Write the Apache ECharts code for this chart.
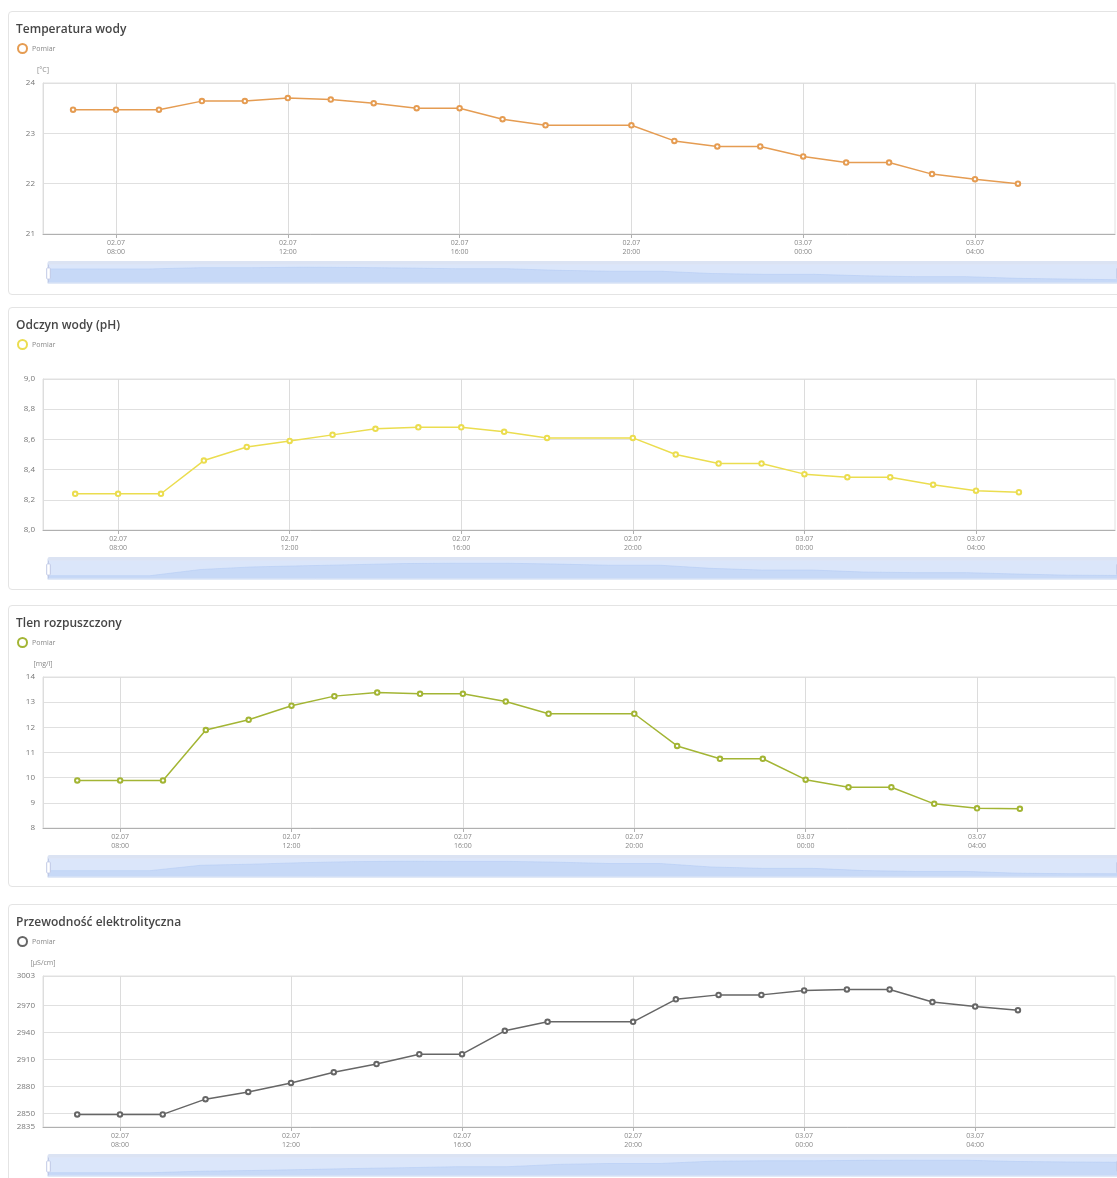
<!DOCTYPE html>
<html>
<head>
<meta charset="utf-8">
<script src="https://cdn.jsdelivr.net/npm/echarts@6/dist/echarts.min.js"></script>
<style>
  html, body { margin: 0; padding: 0; background: #fff; overflow: hidden; width: 1117px; height: 1178px; }
  .card { position: absolute; left: 8px; width: 1140px; border: 1px solid #e4e4e4; border-radius: 4px; box-sizing: border-box; background: #fff; }
  .chart { position: absolute; left: 0; width: 1117px; height: 283px; }
</style>
</head>
<body>
<div class="card" style="top:11px;height:284px"></div>
<div class="card" style="top:307px;height:283px"></div>
<div class="card" style="top:605px;height:282px"></div>
<div class="card" style="top:904px;height:290px"></div>
<div id="c1" class="chart" style="top:11px"></div>
<div id="c2" class="chart" style="top:307px"></div>
<div id="c3" class="chart" style="top:605px"></div>
<div id="c4" class="chart" style="top:904px"></div>
<script>
// Measurement hours (hours since 02.07 00:00); 19:00 missing in source
const hours = [7, 8, 9, 10, 11, 12, 13, 14, 15, 16, 17, 18, 20, 21, 22, 23, 24, 25, 26, 27, 28, 29];
// X-axis tick positions and labels
const tickHours = [8, 12, 16, 20, 24, 28];
const tickLabels = ['02.07\n08:00', '02.07\n12:00', '02.07\n16:00', '02.07\n20:00', '03.07\n00:00', '03.07\n04:00'];
// Visible x-axis window per panel (hours)
const xMin = [6.3, 6.25, 6.2, 6.2];
const xMax = [31.26, 31.24, 31.22, 31.27];

const titles = ['Temperatura wody', 'Odczyn wody (pH)', 'Tlen rozpuszczony', 'Przewodność elektrolityczna'];
const units = ['[°C]', '', '[mg/l]', '[µS/cm]'];
const seriesName = 'Pomiar';

const temperature = [23.47, 23.47, 23.47, 23.64, 23.64, 23.70, 23.67, 23.60, 23.50, 23.50, 23.28, 23.16, 23.16, 22.85, 22.74, 22.74, 22.54, 22.42, 22.42, 22.19, 22.09, 22.00];
const ph = [8.24, 8.24, 8.24, 8.46, 8.55, 8.59, 8.63, 8.67, 8.68, 8.68, 8.65, 8.61, 8.61, 8.50, 8.44, 8.44, 8.37, 8.35, 8.35, 8.30, 8.26, 8.25];
const oxygen = [9.89, 9.89, 9.89, 11.89, 12.30, 12.86, 13.24, 13.38, 13.33, 13.33, 13.03, 12.54, 12.54, 11.26, 10.75, 10.75, 9.92, 9.62, 9.62, 8.96, 8.78, 8.76];
const conductivity = [2849, 2849, 2849, 2866, 2874, 2884, 2896, 2905, 2916, 2916, 2942, 2952, 2952, 2977, 2982, 2982, 2987, 2988, 2988, 2974, 2969, 2965];

// Y-axis tick values per panel
const yTicks = [
  [21, 22, 23, 24],
  [8.0, 8.2, 8.4, 8.6, 8.8, 9.0],
  [8, 9, 10, 11, 12, 13, 14],
  [2835, 2850, 2880, 2910, 2940, 2970, 3003]
];
const colors = ['#e59c52', '#ebdd4f', '#a3b534', '#666666'];

const FONT = '"Open Sans", "Noto Sans", sans-serif';
const allValues = [temperature, ph, oxygen, conductivity];

function makeOption(i) {
  const c = colors[i];
  const ticks = yTicks[i];
  return {
    animation: false,
    textStyle: { fontFamily: FONT },
    title: {
      text: titles[i], left: 11, top: 8,
      textStyle: { fontSize: 12, fontWeight: 600, color: '#464646', fontFamily: FONT }
    },
    legend: {
      left: 12, top: 27,
      itemWidth: 9, itemHeight: 9, itemGap: 5,
      textStyle: { fontSize: 7, color: '#888', fontFamily: FONT },
      data: [{ name: seriesName, icon: 'circle', itemStyle: { color: '#fff', borderColor: c, borderWidth: 2 } }]
    },
    grid: { left: 43, right: 2, top: 72, height: 151, show: true, borderColor: '#e0e0e0', borderWidth: 1 },
    xAxis: {
      type: 'value',
      min: xMin[i],
      max: xMax[i],
      axisLine: { show: true, lineStyle: { color: '#b0b0b0' } },
      axisTick: { show: true, length: 4, customValues: tickHours, lineStyle: { color: '#b0b0b0' } },
      axisLabel: {
        customValues: tickHours,
        fontSize: 7, lineHeight: 9, color: '#888', fontFamily: FONT, margin: 4,
        formatter: v => tickLabels[tickHours.indexOf(Math.round(v))] || ''
      },
      splitLine: { show: true, lineStyle: { color: '#dcdcdc' } }
    },
    yAxis: {
      type: 'value',
      min: ticks[0],
      max: ticks[ticks.length - 1],
      name: units[i],
      nameGap: 10,
      nameTextStyle: { fontSize: 7, color: '#888', fontFamily: FONT },
      axisLine: { show: true, lineStyle: { color: '#ddd' } },
      axisTick: { show: false, customValues: ticks },
      axisLabel: {
        customValues: ticks,
        fontSize: 8, color: '#777', fontFamily: FONT, margin: 8,
        formatter: i === 1 ? (v => v.toFixed(1).replace('.', ',')) : (v => String(Math.round(v)))
      },
      splitLine: { lineStyle: { color: '#e0e0e0' } }
    },
    dataZoom: [{
      type: 'slider', xAxisIndex: 0, filterMode: 'none',
      left: 45, right: 0, top: 250, height: 20,
      showDetail: false,
      borderColor: '#dfe6f5',
      backgroundColor: 'rgba(225,233,250,0.5)',
      fillerColor: 'rgba(170,198,246,0.3)',
      dataBackground: { lineStyle: { color: '#c9d8f6', width: 0.5 }, areaStyle: { color: '#c9d8f6', opacity: 0.45 } },
      selectedDataBackground: { lineStyle: { color: '#b3c9f3', width: 0.5 }, areaStyle: { color: '#b3c9f3', opacity: 0.45 } },
      handleSize: '90%',
      moveHandleSize: 3,
      moveHandleStyle: { color: '#dbe3f3', opacity: 1 },
      moveHandleIcon: 'none'
    }],
    series: [{
      name: seriesName,
      type: 'line',
      data: hours.map((h, k) => [h, allValues[i][k]]),
      symbol: 'emptyCircle',
      symbolSize: 4.5,
      showSymbol: true,
      itemStyle: { color: c, borderWidth: 1.1 },
      lineStyle: { color: c, width: 1.5 }
    }]
  };
}

['c1', 'c2', 'c3', 'c4'].forEach((id, i) => {
  const chart = echarts.init(document.getElementById(id), null, { renderer: 'canvas' });
  chart.setOption(makeOption(i));
});
</script>
</body>
</html>
